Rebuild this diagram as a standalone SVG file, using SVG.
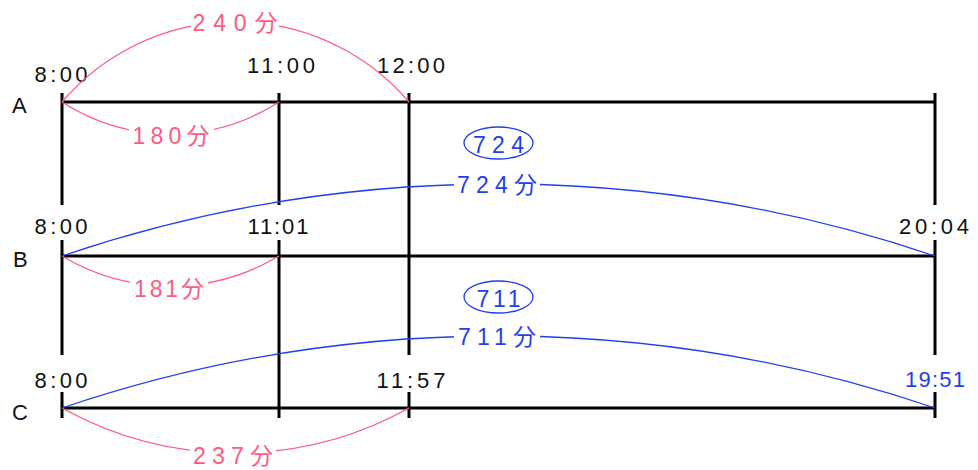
<svg xmlns="http://www.w3.org/2000/svg" width="978" height="470" viewBox="0 0 978 470">
<style>
.bl{stroke:#000;stroke-width:3;fill:none}
.pk{stroke:#ff5a80;stroke-width:1.3;fill:none}
.bu{stroke:#1f3ff0;stroke-width:1.3;fill:none}
.t{font-family:"Liberation Sans","Noto Sans CJK JP",sans-serif;font-size:22px;fill:#111;text-anchor:middle}
.r{font-family:"Liberation Sans",sans-serif;font-size:22px;fill:#111}
.p{font-family:"Liberation Sans","Noto Sans CJK JP",sans-serif;font-size:23px;fill:#ff5a80;text-anchor:middle}
.b{font-family:"Liberation Sans","Noto Sans CJK JP",sans-serif;font-size:23px;fill:#1f3ff0;text-anchor:middle}
.b2{font-family:"Liberation Sans",sans-serif;font-size:22px;fill:#1f3ff0;text-anchor:middle}
.w{fill:#fff}
</style>
<g id="grid">
<path class="bl" d="M62,102H935M62,256H935M62,408H935"/>
<path class="bl" d="M62,93V205M62,240V355M62,392V418"/>
<path class="bl" d="M279,93V205M279,240V418"/>
<path class="bl" d="M409,93V355M409,392V418"/>
<path class="bl" d="M935,93V205M935,240V355M935,392V418"/>
</g>
<g id="rows">
<text class="r" x="12" y="113">A</text>
<text class="r" x="13" y="267">B</text>
<text class="r" x="12" y="420">C</text>
</g>
<g id="times">
<text class="t" x="61" y="82" textLength="53">8:00</text>
<text class="t" x="281" y="73" textLength="68">11:00</text>
<text class="t" x="411" y="73" textLength="68">12:00</text>
<text class="t" x="61" y="234" textLength="53">8:00</text>
<text class="t" x="278" y="234" textLength="61">11:01</text>
<text class="t" x="934" y="234" textLength="70">20:04</text>
<text class="t" x="61" y="388" textLength="53">8:00</text>
<text class="t" x="411" y="388" textLength="69">11:57</text>
<text class="b2" x="935" y="387" textLength="60">19:51</text>
</g>
<g id="connectors">
<path class="pk" d="M62,102A228,228 0 0 1 409,102"/>
<path class="pk" d="M62,102A200,200 0 0 0 279,102"/>
<path class="pk" d="M62,256A211,211 0 0 0 279,256"/>
<path class="pk" d="M62,408A357,357 0 0 0 409,408"/>
<path class="bu" d="M62,256A1359,1359 0 0 1 935,256"/>
<path class="bu" d="M62,408A1359,1359 0 0 1 935,408"/>
</g>
<g id="label-240">
<rect class="w" x="191" y="10" width="88" height="24"/>
<text class="p" x="235" y="31" textLength="85">240分</text>
</g>
<g id="label-180">
<rect class="w" x="129" y="122" width="85" height="24"/>
<text class="p" x="171" y="144" textLength="77">180分</text>
</g>
<g id="label-181">
<rect class="w" x="130" y="276" width="78" height="24"/>
<text class="p" x="169" y="297" textLength="70">181分</text>
</g>
<g id="label-237">
<rect class="w" x="190" y="444" width="86" height="24"/>
<text class="p" x="233" y="464" textLength="80">237分</text>
</g>
<g id="label-724">
<rect class="w" x="454" y="173" width="86" height="24"/>
<text class="b" x="497" y="193" textLength="80">724分</text>
<ellipse class="bu" cx="498.5" cy="143" rx="34.5" ry="16"/>
<text class="b" x="498.5" y="153" textLength="51">724</text>
</g>
<g id="label-711">
<rect class="w" x="454" y="325" width="86" height="24"/>
<text class="b" x="497" y="345" textLength="78">711分</text>
<ellipse class="bu" cx="498.5" cy="297" rx="34.5" ry="16"/>
<text class="b" x="498.5" y="307" textLength="44">711</text>
</g>
</svg>
